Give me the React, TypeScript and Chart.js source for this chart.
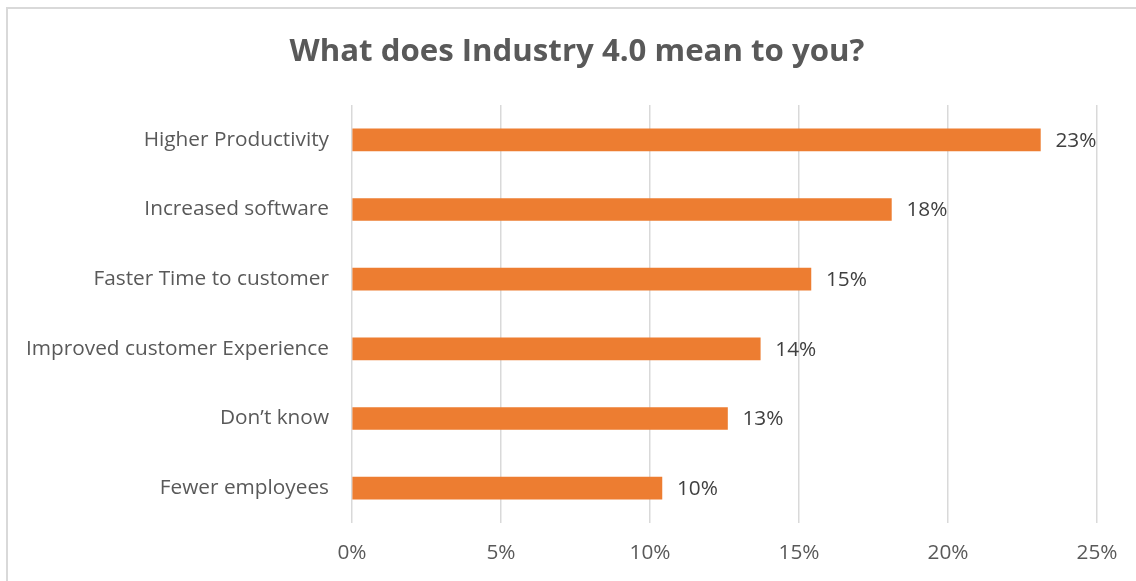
import React, { useEffect, useRef } from "react";
import { Chart, registerables } from "chart.js";

Chart.register(...registerables);

const TITLE = "What does Industry 4.0 mean to you?";
const categories = [
  "Higher Productivity",
  "Increased software",
  "Faster Time to customer",
  "Improved customer Experience",
  "Don\u2019t know",
  "Fewer employees",
];
const values = [23.1, 18.1, 15.4, 13.7, 12.6, 10.4];
const xTicks = [0, 5, 10, 15, 20, 25];

const FONT = "'Open Sans', Lato, sans-serif";
const LABEL_SIZE = 20.8;

const titlePlugin = {
  id: "customTitle",
  afterDraw(chart: any) {
    const ctx = chart.ctx;
    ctx.save();
    ctx.font = `bold 31.2px ${FONT}`;
    ctx.fillStyle = "#595959";
    ctx.textAlign = "center";
    ctx.textBaseline = "middle";
    ctx.fillText(TITLE, 577, 52);
    ctx.restore();
  },
};

const dataLabelPlugin = {
  id: "dataLabels",
  afterDatasetsDraw(chart: any) {
    const ctx = chart.ctx;
    const meta = chart.getDatasetMeta(0);
    ctx.save();
    ctx.font = `${LABEL_SIZE}px ${FONT}`;
    ctx.fillStyle = "#404040";
    ctx.textAlign = "left";
    ctx.textBaseline = "middle";
    meta.data.forEach((bar: any, i: number) => {
      const v = chart.data.datasets[0].data[i] as number;
      ctx.fillText(`${Math.round(v)}%`, bar.x + 15, bar.y + 1);
    });
    ctx.restore();
  },
};

export default function App() {
  const ref = useRef<HTMLCanvasElement>(null);
  useEffect(() => {
    const chart = new Chart(ref.current!, {
      type: "bar",
      data: {
        labels: categories,
        datasets: [
          {
            data: values,
            backgroundColor: "#ED7D31",
            barThickness: 22,
          },
        ],
      },
      options: {
        indexAxis: "y",
        animation: false,
        responsive: false,
        maintainAspectRatio: false,
        layout: { padding: { top: 105, left: 0, right: 39, bottom: 0 } },
        plugins: {
          legend: { display: false },
          title: { display: false },
          tooltip: { enabled: false },
        },
        scales: {
          x: {
            min: 0,
            max: 25,
            afterBuildTicks: (scale: any) => {
              scale.ticks = xTicks.map((v) => ({ value: v }));
            },
            afterFit: (scale: any) => {
              scale.height = 58;
            },
            grid: { color: "#d9d9d9", lineWidth: 1.5, drawTicks: false },
            border: { display: false },
            ticks: {
              padding: 18,
              color: "#595959",
              font: { family: FONT, size: LABEL_SIZE },
              callback: (v: any) => `${v}%`,
            },
          },
          y: {
            afterFit: (scale: any) => {
              scale.width = 352;
            },
            grid: { display: false, drawTicks: false },
            border: { display: false },
            ticks: {
              padding: 23,
              color: "#595959",
              font: { family: FONT, size: LABEL_SIZE },
            },
          },
        },
      },
      plugins: [titlePlugin, dataLabelPlugin],
    });
    return () => chart.destroy();
  }, []);

  return (
    <div style={{ position: "fixed", left: 0, top: 0, width: 1136, height: 581, background: "#fff", overflow: "hidden" }}>
      <div
        style={{
          position: "absolute",
          left: 6,
          top: 7,
          width: 1140,
          height: 580,
          border: "2px solid #d9d9d9",
          boxSizing: "border-box",
        }}
      />
      <canvas ref={ref} width={1136} height={581} style={{ position: "absolute", left: 0, top: 0 }} />
    </div>
  );
}
